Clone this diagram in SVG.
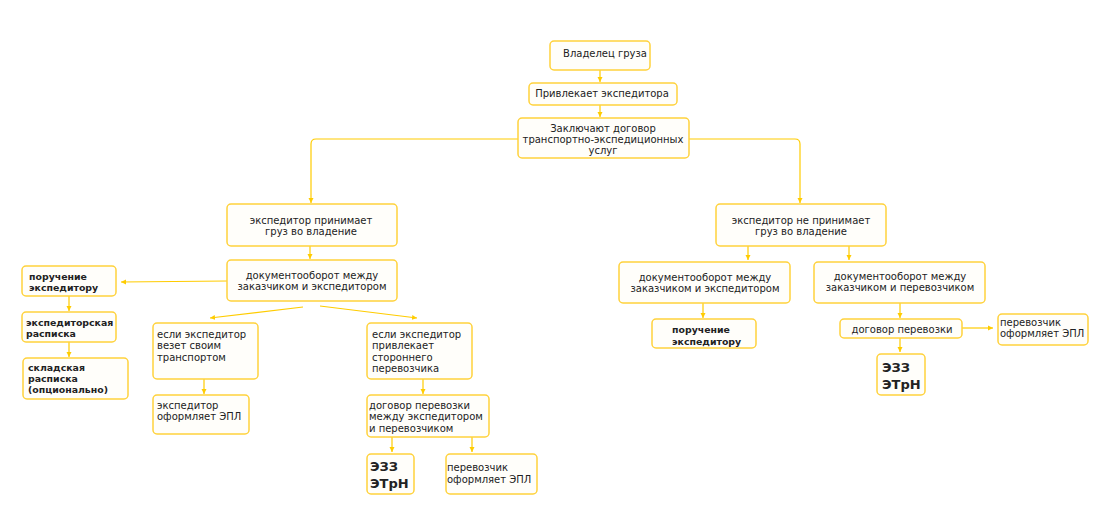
<svg xmlns="http://www.w3.org/2000/svg" width="1114" height="514" viewBox="0 0 1114 514">
<defs>
<style>
.b{fill:#fffefa;stroke:#ffd23c;stroke-width:1.5}
.t{font-family:"DejaVu Sans",sans-serif;font-size:10px;fill:#222}
.c{text-anchor:middle}
.bd{font-weight:bold;font-size:9.4px}
.big{font-size:13px;font-weight:bold}
.l{fill:none;stroke:#ffcc00;stroke-width:1.2}
</style>
<marker id="a" markerWidth="6" markerHeight="6" refX="5" refY="3" orient="auto" markerUnits="userSpaceOnUse">
<path d="M0,0.5 L5,3 L0,5.5 Z" fill="#ffcc00"/>
</marker>
</defs>
<rect width="1114" height="514" fill="#fff"/>
<g id="connectors">
<path class="l" d="M600,70 V82" marker-end="url(#a)"/>
<path class="l" d="M600,105 V117" marker-end="url(#a)"/>
<path class="l" d="M518,139 H316 Q311,139 311,144 V203" marker-end="url(#a)"/>
<path class="l" d="M689,139 H795 Q800,139 800,144 V203" marker-end="url(#a)"/>
<path class="l" d="M310,246 V259" marker-end="url(#a)"/>
<path class="l" d="M227,281 L121,282" marker-end="url(#a)"/>
<path class="l" d="M69,296 V311" marker-end="url(#a)"/>
<path class="l" d="M69,342 V357" marker-end="url(#a)"/>
<path class="l" d="M303,307 L210,318" marker-end="url(#a)"/>
<path class="l" d="M320,306 L417,318" marker-end="url(#a)"/>
<path class="l" d="M204,379 V394" marker-end="url(#a)"/>
<path class="l" d="M423,379 V394" marker-end="url(#a)"/>
<path class="l" d="M392,437 V452" marker-end="url(#a)"/>
<path class="l" d="M472,437 V452" marker-end="url(#a)"/>
<path class="l" d="M748,246 V260" marker-end="url(#a)"/>
<path class="l" d="M849,246 V260" marker-end="url(#a)"/>
<path class="l" d="M703,303 V318" marker-end="url(#a)"/>
<path class="l" d="M900,303 V318" marker-end="url(#a)"/>
<path class="l" d="M962,328 H993" marker-end="url(#a)"/>
<path class="l" d="M900,338 V352" marker-end="url(#a)"/>
</g>
<g id="n1"><rect class="b" x="550" y="41" width="100" height="29" rx="4"/><text class="t c" x="605" y="57">Владелец груза</text></g>
<g id="n2"><rect class="b" x="529" y="83" width="148" height="22" rx="4"/><text class="t c" x="602" y="97">Привлекает экспедитора</text></g>
<g id="n3"><rect class="b" x="518" y="118" width="171" height="40" rx="4"/><text class="t c" x="603"><tspan x="603" y="132">Заключают договор</tspan><tspan x="603" y="143">транспортно-экспедиционных</tspan><tspan x="603" y="154">услуг</tspan></text></g>
<g id="n4"><rect class="b" x="227" y="204" width="170" height="42" rx="4"/><text class="t c"><tspan x="311" y="224">экспедитор принимает</tspan><tspan x="311" y="235">груз во владение</tspan></text></g>
<g id="n5"><rect class="b" x="227" y="260" width="170" height="41" rx="4"/><text class="t c"><tspan x="312" y="279">документооборот между</tspan><tspan x="312" y="290">заказчиком и экспедитором</tspan></text></g>
<g id="n6"><rect class="b" x="22" y="266" width="94" height="30" rx="4"/><text class="t bd"><tspan x="29" y="280">поручение</tspan><tspan x="29" y="291">экспедитору</tspan></text></g>
<g id="n7"><rect class="b" x="22" y="312" width="94" height="30" rx="4"/><text class="t bd"><tspan x="26" y="326">экспедиторская</tspan><tspan x="26" y="337">расписка</tspan></text></g>
<g id="n8"><rect class="b" x="23" y="358" width="105" height="41" rx="4"/><text class="t bd"><tspan x="28" y="371">складская</tspan><tspan x="28" y="382">расписка</tspan><tspan x="28" y="393">(опционально)</tspan></text></g>
<g id="n9"><rect class="b" x="153" y="323" width="105" height="56" rx="4"/><text class="t"><tspan x="157" y="338">если экспедитор</tspan><tspan x="157" y="349">везет своим</tspan><tspan x="157" y="361">транспортом</tspan></text></g>
<g id="n10"><rect class="b" x="153" y="395" width="96" height="39" rx="4"/><text class="t"><tspan x="157" y="409">экспедитор</tspan><tspan x="157" y="420">оформляет ЭПЛ</tspan></text></g>
<g id="n11"><rect class="b" x="367" y="323" width="105" height="56" rx="4"/><text class="t"><tspan x="372" y="338">если экспедитор</tspan><tspan x="372" y="349">привлекает</tspan><tspan x="372" y="361">стороннего</tspan><tspan x="372" y="372">перевозчика</tspan></text></g>
<g id="n12"><rect class="b" x="367" y="395" width="122" height="42" rx="4"/><text class="t"><tspan x="369" y="409">договор перевозки</tspan><tspan x="369" y="420">между экспедитором</tspan><tspan x="369" y="432">и перевозчиком</tspan></text></g>
<g id="n13"><rect class="b" x="367" y="454" width="47" height="40" rx="4"/><text class="t big"><tspan x="370" y="471">ЭЗЗ</tspan><tspan x="370" y="488">ЭТрН</tspan></text></g>
<g id="n14"><rect class="b" x="446" y="454" width="91" height="40" rx="4"/><text class="t"><tspan x="447" y="471">перевозчик</tspan><tspan x="447" y="483">оформляет ЭПЛ</tspan></text></g>
<g id="n15"><rect class="b" x="716" y="204" width="170" height="42" rx="4"/><text class="t c"><tspan x="801" y="224">экспедитор не принимает</tspan><tspan x="801" y="235">груз во владение</tspan></text></g>
<g id="n16"><rect class="b" x="619" y="262" width="171" height="41" rx="4"/><text class="t c"><tspan x="705" y="281">документооборот между</tspan><tspan x="705" y="292">заказчиком и экспедитором</tspan></text></g>
<g id="n17"><rect class="b" x="652" y="319" width="104" height="29" rx="4"/><text class="t bd"><tspan x="672" y="333">поручение</tspan><tspan x="672" y="345">экспедитору</tspan></text></g>
<g id="n18"><rect class="b" x="814" y="262" width="171" height="41" rx="4"/><text class="t c"><tspan x="900" y="280">документооборот между</tspan><tspan x="900" y="291">заказчиком и перевозчиком</tspan></text></g>
<g id="n19"><rect class="b" x="840" y="319" width="122" height="19" rx="4"/><text class="t c" x="902" y="333">договор перевозки</text></g>
<g id="n20"><rect class="b" x="998" y="314" width="90" height="31" rx="4"/><text class="t"><tspan x="1000" y="326">перевозчик</tspan><tspan x="1000" y="337">оформляет ЭПЛ</tspan></text></g>
<g id="n21"><rect class="b" x="877" y="354" width="48" height="41" rx="4"/><text class="t big"><tspan x="882" y="372">ЭЗЗ</tspan><tspan x="882" y="389">ЭТрН</tspan></text></g>
</svg>
